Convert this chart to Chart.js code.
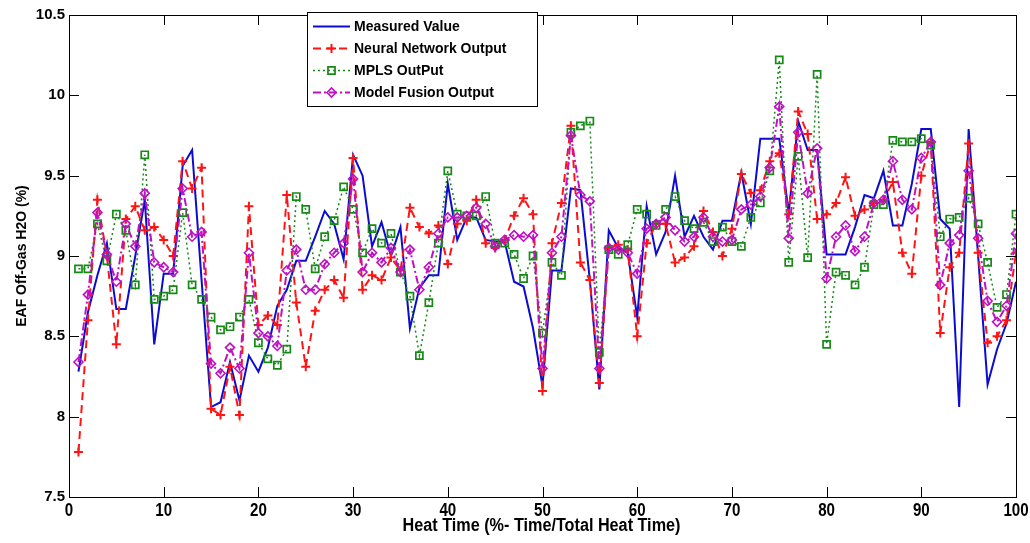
<!DOCTYPE html>
<html><head><meta charset="utf-8">
<script src="https://cdn.jsdelivr.net/npm/chart.js@4.4.0/dist/chart.umd.min.js"></script>
<style>html,body{margin:0;padding:0;background:#fff;}canvas{display:block;}</style>
</head><body>
<canvas id="c" width="1030" height="543"></canvas>
<script>
const heatTime = [1,2,3,4,5,6,7,8,9,10,11,12,13,14,15,16,17,18,19,20,21,22,23,24,25,26,27,28,29,30,31,32,33,34,35,36,37,38,39,40,41,42,43,44,45,46,47,48,49,50,51,52,53,54,55,56,57,58,59,60,61,62,63,64,65,66,67,68,69,70,71,72,73,74,75,76,77,78,79,80,81,82,83,84,85,86,87,88,89,90,91,92,93,94,95,96,97,98,99,100];
const measured = [8.28,8.65,8.88,9.08,8.67,8.67,9.0,9.35,8.45,8.89,8.89,9.56,9.66,8.85,8.06,8.09,8.34,8.10,8.38,8.28,
  8.43,8.69,8.79,8.97,8.97,9.12,9.28,9.2,8.98,9.63,9.5,9.06,9.21,9.0,9.18,8.55,8.8,8.88,8.88,9.45,
  9.1,9.24,9.24,9.1,9.09,9.09,8.84,8.81,8.55,8.19,8.91,8.91,9.42,9.41,8.85,8.17,9.16,9.05,9.02,8.62,
  9.31,9.01,9.15,9.5,9.12,9.25,9.12,9.04,9.22,9.22,9.52,9.2,9.73,9.73,9.73,9.27,9.84,9.66,9.66,9.01,
  9.01,9.01,9.18,9.38,9.36,9.53,9.19,9.19,9.45,9.79,9.79,9.23,9.17,8.06,9.79,9.0,8.2,8.42,8.58,8.84];
const neural = [7.78,8.6,9.35,9.0,8.45,9.23,9.31,9.16,9.18,9.1,9.0,9.59,9.42,9.55,8.05,8.01,8.31,8.01,9.31,8.57,
  8.63,8.57,9.38,8.71,8.31,8.66,8.79,8.85,8.74,9.61,8.79,8.88,8.85,8.99,8.91,9.30,9.18,9.14,9.19,8.95,
  9.2,9.22,9.35,9.08,9.05,9.1,9.25,9.36,9.26,8.16,9.08,9.33,9.81,8.96,8.85,8.21,9.05,9.07,9.04,8.5,
  9.08,9.2,9.2,8.96,8.99,9.06,9.28,9.15,9.0,9.17,9.51,9.39,9.41,9.59,9.64,9.26,9.9,9.76,9.23,9.26,
  9.33,9.49,9.25,9.29,9.33,9.35,9.46,9.02,8.89,9.5,9.71,8.52,8.93,9.02,9.7,9.02,8.46,8.5,8.6,9.02];
const mpls = [8.92,8.92,9.2,8.97,9.26,9.16,8.82,9.63,8.73,8.75,8.79,9.27,8.82,8.73,8.62,8.54,8.56,8.62,8.73,8.46,
  8.36,8.32,8.42,9.37,9.29,8.92,9.12,9.22,9.43,9.29,9.02,9.17,9.08,9.14,8.9,8.75,8.38,8.71,9.08,9.53,
  9.26,9.25,9.25,9.37,9.08,9.08,9.01,8.86,9.0,8.52,8.96,8.88,9.77,9.81,9.84,8.4,9.04,9.01,9.07,9.29,
  9.26,9.19,9.29,9.37,9.22,9.17,9.21,9.09,9.18,9.09,9.06,9.24,9.33,9.53,10.22,8.96,9.62,8.99,10.13,8.45,
  8.9,8.88,8.82,8.93,9.32,9.32,9.72,9.71,9.71,9.73,9.69,9.12,9.23,9.24,9.36,9.2,8.96,8.68,8.76,9.26];
const fusion = [8.34,8.76,9.27,9.01,8.84,9.2,9.06,9.39,8.96,8.93,8.9,9.42,9.12,9.15,8.33,8.27,8.43,8.30,9.02,8.52,
  8.50,8.44,8.91,9.04,8.79,8.79,8.95,9.02,9.08,9.48,8.9,9.02,8.96,9.05,8.9,9.04,8.79,8.93,9.14,9.24,
  9.24,9.25,9.3,9.2,9.06,9.1,9.13,9.12,9.13,8.3,9.02,9.12,9.75,9.38,9.34,8.3,9.05,9.04,9.02,8.89,
  9.17,9.2,9.24,9.16,9.09,9.12,9.24,9.12,9.09,9.1,9.29,9.32,9.37,9.55,9.93,9.11,9.77,9.39,9.67,8.86,
  9.12,9.19,9.03,9.12,9.33,9.35,9.59,9.35,9.29,9.61,9.71,8.82,9.08,9.13,9.53,9.11,8.72,8.59,8.69,9.14];
const seriesNames = ['Measured Value','Neural Network Output','MPLS OutPut','Model Fusion Output'];
const xTicks = [0,10,20,30,40,50,60,70,80,90,100];
const yTicks = [7.5,8,8.5,9,9.5,10,10.5];
const xTitle = 'Heat Time (%- Time/Total Heat Time)';
const yTitle = 'EAF Off-Gas H2O (%)';

const toXY = arr => heatTime.map((x, i) => ({x: x, y: arr[i]}));
const NARROW = 'bold 18px "Liberation Sans", Arial, sans-serif';

function drawMarker(ctx, style, x, y, r) {
  ctx.beginPath();
  if (style === 'cross') {
    ctx.moveTo(x - r, y); ctx.lineTo(x + r, y);
    ctx.moveTo(x, y - r); ctx.lineTo(x, y + r);
  } else if (style === 'rect') {
    const s = r * Math.SQRT1_2;
    ctx.rect(x - s, y - s, 2 * s, 2 * s);
  } else if (style === 'rectRot') {
    ctx.moveTo(x - r, y); ctx.lineTo(x, y - r); ctx.lineTo(x + r, y); ctx.lineTo(x, y + r); ctx.closePath();
  }
  ctx.stroke();
}

function narrowText(ctx, text, x, y, sx) {
  ctx.save();
  ctx.translate(x, y);
  ctx.scale(sx, 1);
  ctx.fillText(text, 0, 0);
  ctx.restore();
}

const framePlugin = {
  id: 'frame',
  afterDatasetsDraw(chart) {
    const ctx = chart.ctx, a = chart.chartArea;
    const xs = chart.scales.x, ys = chart.scales.y;
    ctx.save();
    ctx.strokeStyle = '#000'; ctx.lineWidth = 1; ctx.setLineDash([]);
    ctx.strokeRect(Math.round(a.left) + 0.5, Math.round(a.top) + 0.5, Math.round(a.right - a.left), Math.round(a.bottom - a.top));
    ctx.beginPath();
    xTicks.forEach(v => {
      const px = Math.round(xs.getPixelForValue(v)) + 0.5;
      ctx.moveTo(px, a.bottom); ctx.lineTo(px, a.bottom - 10);
      ctx.moveTo(px, a.top); ctx.lineTo(px, a.top + 10);
    });
    yTicks.forEach(v => {
      const py = Math.round(ys.getPixelForValue(v)) + 0.5;
      ctx.moveTo(a.left, py); ctx.lineTo(a.left + 10, py);
      ctx.moveTo(a.right, py); ctx.lineTo(a.right - 10, py);
    });
    ctx.stroke();
    ctx.fillStyle = '#000';
    ctx.font = NARROW;
    ctx.textAlign = 'center';
    ctx.textBaseline = 'middle';
    xTicks.forEach(v => {
      narrowText(ctx, String(v), xs.getPixelForValue(v), a.bottom + 14, 0.84);
    });
    narrowText(ctx, xTitle, (a.left + a.right) / 2 - 1, a.bottom + 29, 0.9);
    ctx.restore();
  },
  afterDraw(chart) {
    const ctx = chart.ctx;
    const x0 = 307, y0 = 12, w = 230, h = 94;
    ctx.save();
    ctx.fillStyle = '#fff';
    ctx.fillRect(x0, y0, w, h);
    ctx.strokeStyle = '#000'; ctx.lineWidth = 1;
    ctx.strokeRect(x0 + 0.5, y0 + 0.5, w, h);
    chart.data.datasets.forEach((ds, i) => {
      const cy = y0 + 14.5 + i * 22;
      ctx.save();
      ctx.strokeStyle = ds.borderColor;
      ctx.lineWidth = ds.borderWidth;
      ctx.setLineDash(ds.borderDash || []);
      ctx.beginPath(); ctx.moveTo(313, cy); ctx.lineTo(350, cy); ctx.stroke();
      ctx.setLineDash([]);
      if (ds.pointRadius > 0) {
        ctx.lineWidth = ds.pointBorderWidth;
        ctx.fillStyle = '#fff';
        drawMarker(ctx, ds.pointStyle, 331.5, cy, ds.pointRadius);
      }
      ctx.restore();
      ctx.fillStyle = '#000';
      ctx.font = 'bold 14px "Liberation Sans", Arial, sans-serif';
      ctx.textBaseline = 'middle';
      ctx.textAlign = 'left';
      ctx.fillText(ds.label, 354, cy + 1);
    });
    ctx.restore();
  }
};

new Chart(document.getElementById('c'), {
  type: 'line',
  data: {
    datasets: [
      {label: seriesNames[0], data: toXY(measured), borderColor: '#0c0cd0', borderWidth: 2, pointRadius: 0, order: 4, fill: false},
      {label: seriesNames[1], data: toXY(neural), borderColor: '#ff1414', borderWidth: 2, borderDash: [8, 5],
        pointStyle: 'cross', pointRadius: 4.5, pointBorderWidth: 2, pointBorderColor: '#ff1414', pointBackgroundColor: 'rgba(0,0,0,0)', order: 3, fill: false},
      {label: seriesNames[2], data: toXY(mpls), borderColor: '#168a16', borderWidth: 1.5, borderDash: [2, 3],
        pointStyle: 'rect', pointRadius: 5, pointBorderWidth: 1.7, pointBorderColor: '#168a16', pointBackgroundColor: 'rgba(0,0,0,0)', order: 2, fill: false},
      {label: seriesNames[3], data: toXY(fusion), borderColor: '#c010c4', borderWidth: 2, borderDash: [8, 3, 2, 3],
        pointStyle: 'rectRot', pointRadius: 4.5, pointBorderWidth: 1.6, pointBorderColor: '#c010c4', pointBackgroundColor: 'rgba(0,0,0,0)', order: 1, fill: false}
    ]
  },
  options: {
    responsive: false,
    animation: false,
    layout: {padding: {left: 0, right: 14, top: 15, bottom: 0}},
    plugins: {legend: {display: false}, tooltip: {enabled: false}},
    elements: {line: {tension: 0}},
    scales: {
      x: {
        type: 'linear', min: 0, max: 100,
        afterBuildTicks: s => { s.ticks = xTicks.map(v => ({value: v})); },
        afterFit: s => { s.height = 46; },
        grid: {display: false, drawTicks: false},
        border: {display: false},
        ticks: {display: false},
        title: {display: false}
      },
      y: {
        type: 'linear', min: 7.5, max: 10.5,
        afterBuildTicks: s => { s.ticks = yTicks.map(v => ({value: v})); },
        afterFit: s => { s.width = 69; },
        grid: {display: false, drawTicks: false},
        border: {display: false},
        ticks: {color: '#000', padding: 4, autoSkip: false,
          callback: v => String(v),
          font: {family: '"Liberation Sans", Arial, sans-serif', weight: 'bold', size: 15}},
        title: {display: true, text: yTitle, color: '#000', padding: {top: 14, bottom: 0},
          font: {family: '"Liberation Sans", Arial, sans-serif', weight: 'bold', size: 14}}
      }
    }
  },
  plugins: [framePlugin]
});
</script>
</body></html>
